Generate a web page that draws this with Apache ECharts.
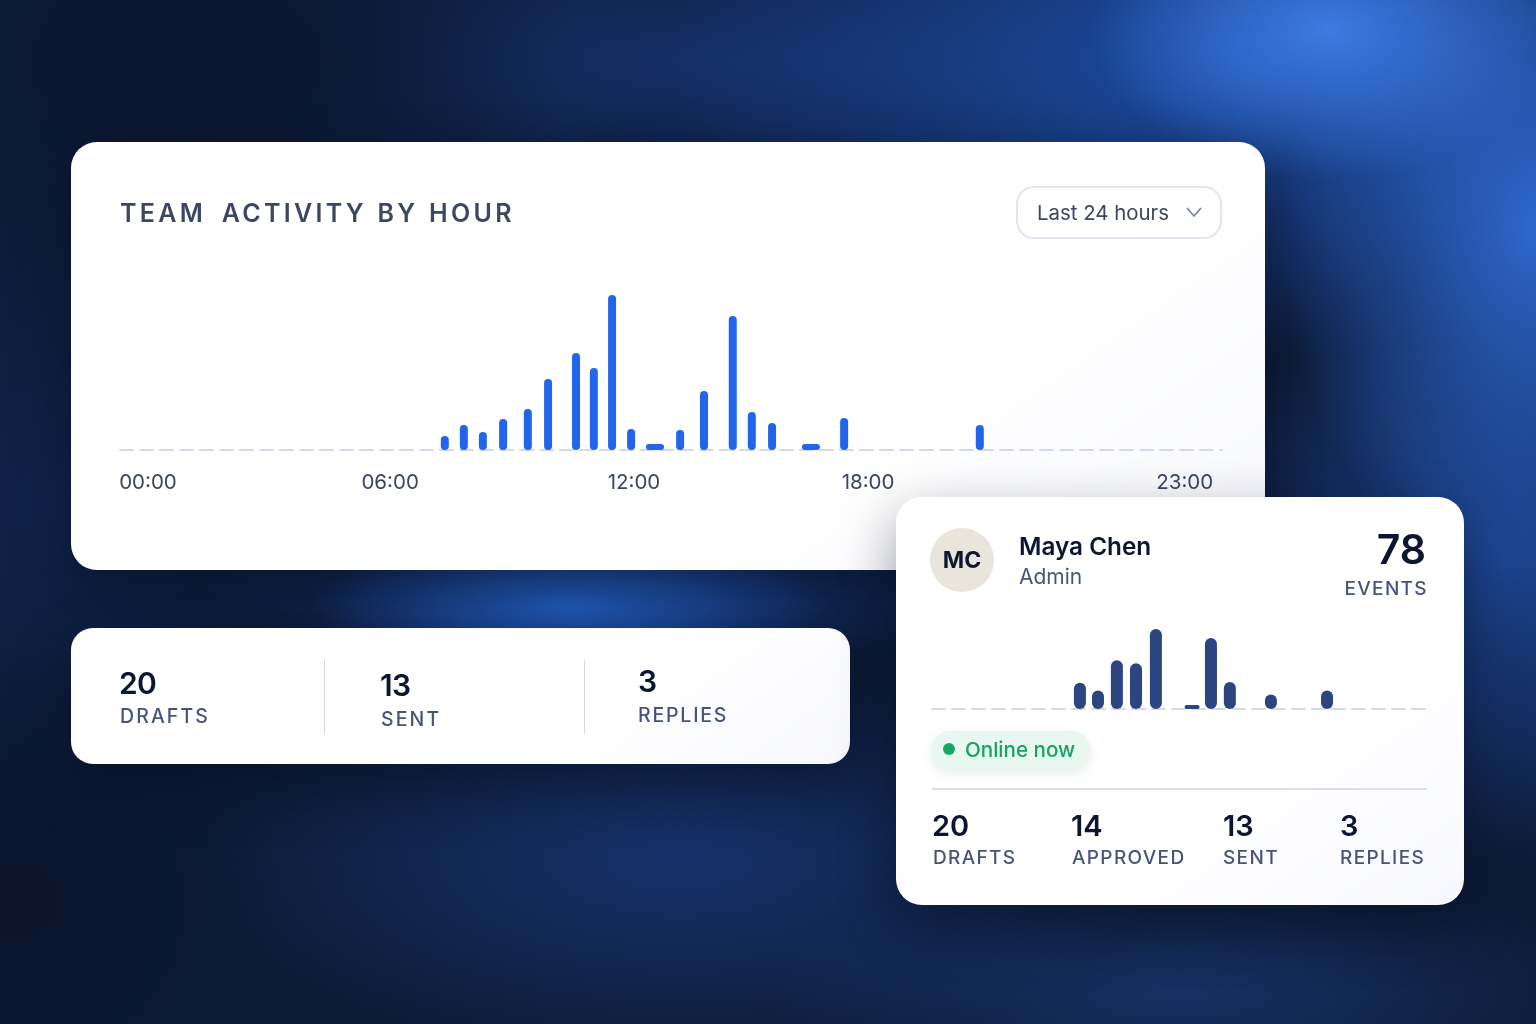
<!DOCTYPE html>
<html><head><meta charset="utf-8">
<script src="https://cdn.jsdelivr.net/npm/echarts@6/dist/echarts.min.js"></script>
<style>
*{box-sizing:border-box}
html,body{margin:0;width:1536px;height:1024px;overflow:hidden;font-family:Inter,"Noto Sans",sans-serif}
#bg{position:absolute;inset:0;background:
 radial-gradient(ellipse 240px 150px at 1330px 30px,rgba(62,125,235,.9),rgba(62,125,235,0) 100%),
 radial-gradient(ellipse 260px 360px at 1540px 230px,rgba(48,108,220,.9),rgba(48,108,220,0) 100%),
 radial-gradient(ellipse 560px 300px at 1230px 60px,rgba(30,82,180,.85),rgba(30,82,180,0) 100%),
 radial-gradient(ellipse 260px 70px at 570px 605px,rgba(36,95,200,.95),rgba(36,95,200,0) 100%),
 radial-gradient(ellipse 420px 80px at 620px 590px,rgba(24,62,135,.7),rgba(24,62,135,0) 100%),
 radial-gradient(ellipse 300px 300px at 1500px 560px,rgba(30,75,160,.8),rgba(30,75,160,0) 100%),
 radial-gradient(ellipse 480px 200px at 680px 860px,rgba(26,62,132,.62),rgba(26,62,132,0) 100%),
 radial-gradient(ellipse 620px 150px at 700px 60px,rgba(22,54,118,.7),rgba(22,54,118,0) 100%),
 radial-gradient(ellipse 420px 130px at 1180px 990px,rgba(28,64,130,.55),rgba(28,64,130,0) 100%),
 radial-gradient(ellipse 300px 300px at 60px 500px,rgba(18,40,90,.5),rgba(18,40,90,0) 100%),
 #0c1a36;}
#bg:after{content:"";position:absolute;inset:0;background:
 radial-gradient(ellipse 320px 170px at 260px 60px,rgba(6,12,28,.6),rgba(6,12,28,0) 100%),
 radial-gradient(ellipse 260px 260px at 20px 900px,rgba(6,14,32,.55),rgba(6,14,32,0) 100%);}
#grain{position:absolute;left:0;top:0;opacity:.12;mix-blend-mode:overlay}
.card{position:absolute;background:linear-gradient(145deg,#fff 65%,#f7f8fd 100%);box-shadow:0 22px 55px rgba(3,9,25,.42)}
.t{position:absolute;white-space:nowrap;line-height:1;transform:translateY(-50%)}
.num{color:#0d1631;font-weight:600}
.lab{color:#47537a;font-weight:500;font-size:19.5px;letter-spacing:2.1px}
.pl{font-size:19px;letter-spacing:1.35px}
.chart{position:absolute}
</style></head><body>
<div id="bg"></div>
<svg id="grain" width="1536" height="1024"><filter id="n"><feTurbulence type="fractalNoise" baseFrequency="0.8" numOctaves="2"/><feColorMatrix type="saturate" values="0"/></filter><rect width="1536" height="1024" filter="url(#n)"/></svg>

<div class="card" style="left:71px;top:142px;width:1194px;height:428px;border-radius:26px"></div>
<div class="t" style="left:120px;top:213px;font-size:25px;font-weight:600;color:#3c4763;letter-spacing:3.3px;word-spacing:1px">TEAM<span style="margin-left:5px"> ACTIVITY BY HOUR</span></div>
<div style="position:absolute;left:1016px;top:186px;width:206px;height:53px;border:2px solid #e2e6ee;border-radius:18px;background:#fff"></div>
<div class="t" style="left:1037px;top:213px;font-size:20.4px;color:#3d4660">Last 24 hours</div>
<svg style="position:absolute;left:1185px;top:206px" width="18" height="13"><path d="M2 2 L9 10 L16 2" fill="none" stroke="#7a849c" stroke-width="1.8"/></svg>
<div id="mainChart" class="chart" style="left:71px;top:260px;width:1194px;height:250px"></div>

<div class="card" style="left:71px;top:628px;width:779px;height:136px;border-radius:22px"></div>
<div style="position:absolute;left:323.5px;top:659px;width:1.5px;height:75px;background:#d5d9e4"></div>
<div style="position:absolute;left:583.5px;top:659px;width:1.5px;height:75px;background:#d5d9e4"></div>
<div class="t num" style="left:119px;top:683px;font-size:30px;letter-spacing:-.6px">20</div>
<div class="t lab" style="left:120px;top:717px">DRAFTS</div>
<div class="t num" style="left:380px;top:685px;font-size:30px;letter-spacing:-.6px">13</div>
<div class="t lab" style="left:381px;top:720px">SENT</div>
<div class="t num" style="left:638px;top:681px;font-size:30px">3</div>
<div class="t lab" style="left:638px;top:716px;letter-spacing:1.8px">REPLIES</div>

<div class="card" style="left:896px;top:497px;width:568px;height:408px;border-radius:26px"></div>
<div style="position:absolute;left:930px;top:528px;width:64px;height:64px;border-radius:50%;background:#e9e4dc"></div>
<div class="t" style="left:930px;top:560px;width:64px;text-align:center;font-size:23px;font-weight:700;color:#0f1830">MC</div>
<div class="t" style="left:1019px;top:546px;font-size:24.3px;font-weight:600;color:#0d1631">Maya Chen</div>
<div class="t" style="left:1019px;top:576px;font-size:21px;color:#47557d">Admin</div>
<div class="t num" style="right:110px;top:549px;font-size:41px">78</div>
<div class="t lab pl" style="right:108px;top:588px">EVENTS</div>
<div id="userChart" class="chart" style="left:896px;top:610px;width:568px;height:110px"></div>
<div style="position:absolute;left:931px;top:731px;width:159px;height:38px;border-radius:19px;background:#e8f7f0;box-shadow:0 4px 12px rgba(60,110,90,.12)"></div>
<div style="position:absolute;left:943px;top:743px;width:12px;height:12px;border-radius:50%;background:#19a864"></div>
<div class="t" style="left:965px;top:750px;font-size:20.6px;font-weight:500;color:#14a265">Online now</div>
<div style="position:absolute;left:932px;top:788px;width:495px;height:2px;background:#dcdfe7"></div>
<div class="t num" style="left:932px;top:825px;font-size:29px">20</div>
<div class="t lab pl" style="left:933px;top:857px">DRAFTS</div>
<div class="t num" style="left:1071px;top:825px;font-size:29px">14</div>
<div class="t lab pl" style="left:1072px;top:857px">APPROVED</div>
<div class="t num" style="left:1223px;top:825px;font-size:29px">13</div>
<div class="t lab pl" style="left:1223px;top:857px">SENT</div>
<div class="t num" style="left:1340px;top:825px;font-size:29px">3</div>
<div class="t lab pl" style="left:1340px;top:857px">REPLIES</div>

<script>
// Team activity: hour position of each bar and its activity value
const teamHours  = [7.33,7.8,8.27,8.77,9.38,9.88,10.57,11.01,11.46,11.93,13.14,13.73,14.44,14.91,15.41,17.19,20.54];
const teamValues = [1.4,2.5,1.8,3.1,4.1,7.1,9.7,8.2,15.5,2.1,2.0,5.9,13.4,3.8,2.7,3.2,2.5];
// Short, wide bars
const teamWideHours  = [12.52,16.37];
const teamWideValues = [0.6,0.6];
// Tick labels
const tickHours  = [0,5.98,12,17.78,25.6];
const tickLabels = ['00:00','06:00','12:00','18:00','23:00'];
// Maya Chen's activity
const mayaHours  = [7.2,8.08,9.0,9.93,10.9,13.58,14.5,16.5,19.23];
const mayaValues = [5.8,4.1,10.8,10.1,17.7,15.7,6.0,3.2,4.1];
const mayaWideHours  = [12.66];
const mayaWideValues = [0.9];

const pairs = (xs, ys) => xs.map((x, i) => [x, ys[i]]);
const dash = {show:true, onZero:true, lineStyle:{color:'#d3d9e6', width:2, type:[13,7]}};
const hiddenX = (min, max) => ({type:'value', min, max, show:false});

const main = echarts.init(document.getElementById('mainChart'));
main.setOption({
  animation:false,
  grid:{left:49, width:1102, top:35, height:155},
  xAxis:[{
    type:'value', min:-0.69, max:26.52, splitLine:{show:false}, axisTick:{show:false}, axisLine:dash,
    axisLabel:{customValues:tickHours, margin:22, fontFamily:'Inter', fontSize:20.5, color:'#3d4660',
      formatter:v => tickLabels[tickHours.indexOf(v)] || ''}
  }, hiddenX(-0.69,26.52)],
  yAxis:{type:'value', min:0, max:15.5, show:false},
  series:[
    {name:'Activity', type:'bar', barWidth:8, itemStyle:{color:'#2166ea', borderRadius:4}, data:pairs(teamHours, teamValues)},
    {name:'Activity (low)', type:'bar', xAxisIndex:1, barWidth:18, itemStyle:{color:'#2166ea', borderRadius:3}, data:pairs(teamWideHours, teamWideValues)}
  ]
});

const user = echarts.init(document.getElementById('userChart'));
user.setOption({
  animation:false,
  grid:{left:36, width:493, top:19, height:80},
  xAxis:[{type:'value', min:0, max:24, splitLine:{show:false}, axisTick:{show:false}, axisLabel:{show:false},
    axisLine:{show:true, onZero:true, lineStyle:{color:'#d5daea', width:2, type:[13,7]}}}, hiddenX(0,24)],
  yAxis:{type:'value', min:0, max:17.7, show:false},
  series:[
    {name:'Maya Chen', type:'bar', barWidth:12, itemStyle:{color:'#2c4480', borderRadius:6}, data:pairs(mayaHours, mayaValues)},
    {name:'Maya Chen (low)', type:'bar', xAxisIndex:1, barWidth:15, itemStyle:{color:'#2c4480', borderRadius:2}, data:pairs(mayaWideHours, mayaWideValues)}
  ]
});
</script>
</body></html>
